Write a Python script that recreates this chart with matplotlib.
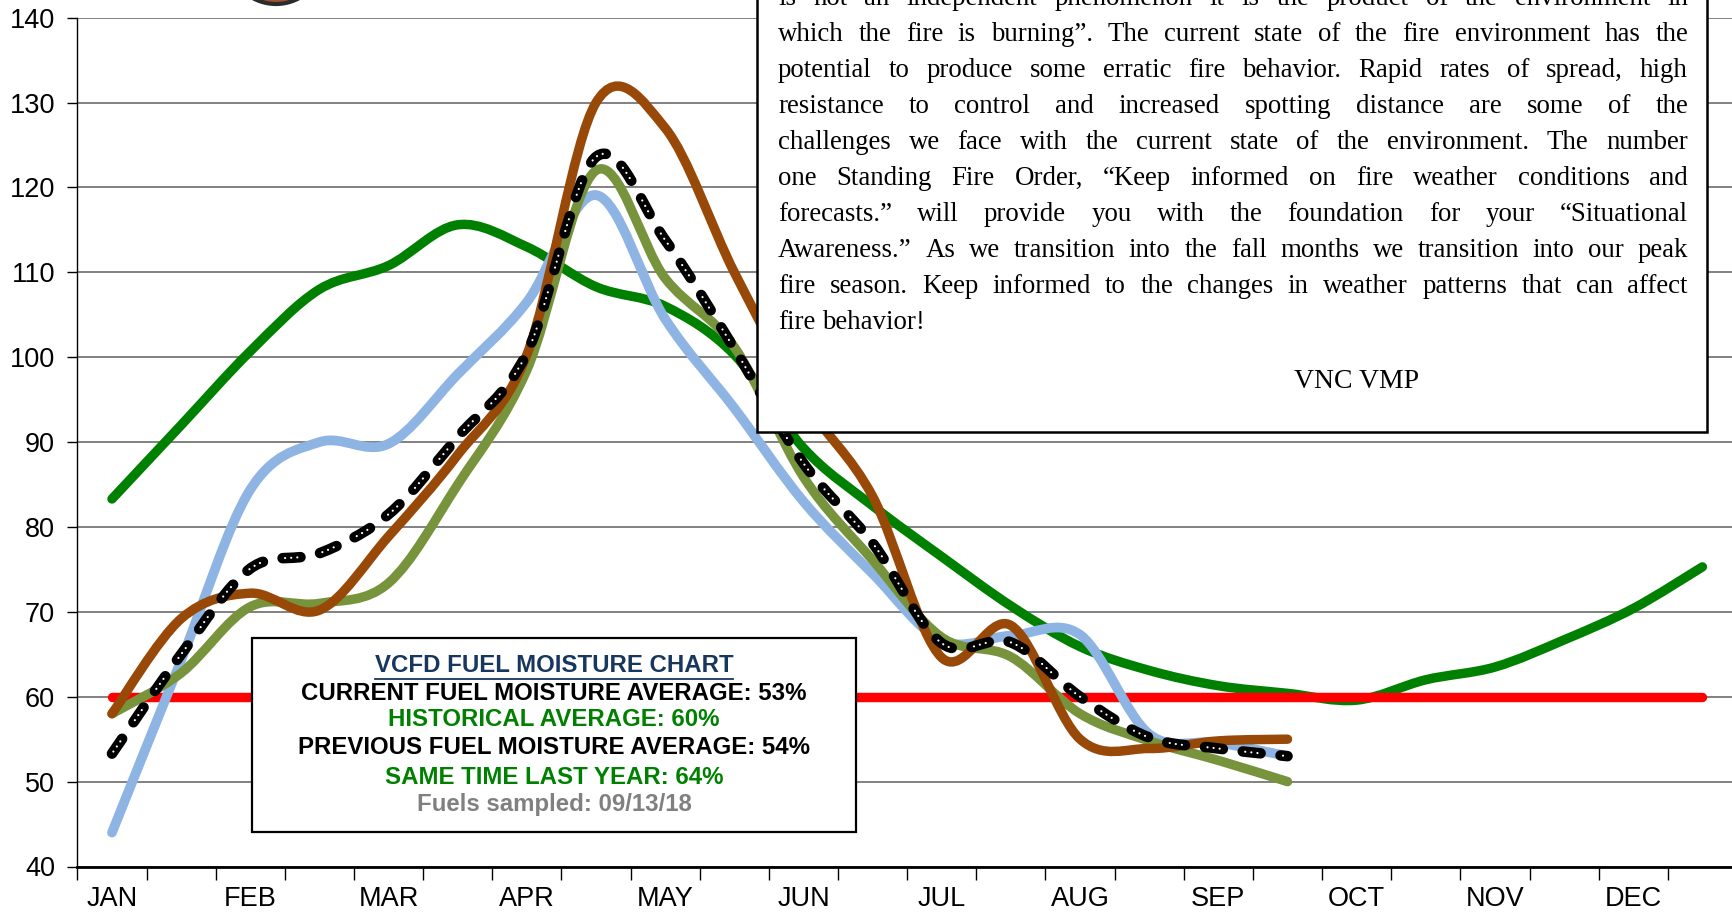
import numpy as np
import matplotlib
matplotlib.use('Agg')
import matplotlib.pyplot as plt
from matplotlib.path import Path
from matplotlib.patches import PathPatch, Rectangle, Ellipse
from matplotlib.lines import Line2D

# half-month sample slots, labels on every other slot
months = ['JAN', 'FEB', 'MAR', 'APR', 'MAY', 'JUN',
          'JUL', 'AUG', 'SEP', 'OCT', 'NOV', 'DEC']
slots = np.arange(24)

hist_avg = [83.3, 92.0, 100.7, 108.0, 110.8, 115.6, 113.0, 108.3, 106.0, 100.3,
            89.3, 82.5, 76.5, 70.7, 65.9, 63.1, 61.3, 60.4, 59.6, 62.0,
            63.5, 66.7, 70.4, 75.3]
current = [53.3, 65.0, 75.1, 76.9, 81.5, 90.6, 100.5, 123.6, 113.8, 101.0,
           87.5, 78.1, 66.3, 66.4, 60.0, 55.2, 53.9, 53.0]
blue_year = [44.0, 64.3, 84.4, 90.0, 89.8, 98.0, 106.5, 119.1, 104.5, 94.0,
             83.0, 74.5, 66.6, 67.2, 67.3, 55.6, 54.6, 53.0]
olive_year = [58.0, 62.8, 70.6, 71.0, 73.4, 85.0, 98.5, 122.0, 109.3, 101.2,
              85.9, 76.1, 67.0, 64.7, 58.0, 54.8, 52.5, 50.0]
brown_year = [58.0, 69.2, 72.2, 70.2, 78.9, 88.5, 100.3, 130.0, 127.0, 110.0,
              95.0, 83.6, 64.6, 68.4, 55.0, 53.9, 54.8, 55.0]
threshold = 60

stats_lines = [
    ('VCFD FUEL MOISTURE CHART', '#17375E'),
    ('CURRENT FUEL MOISTURE AVERAGE: 53%', 'black'),
    ('HISTORICAL AVERAGE: 60%', '#008000'),
    ('PREVIOUS FUEL MOISTURE AVERAGE: 54%', 'black'),
    ('SAME TIME LAST YEAR: 64%', '#008000'),
    ('Fuels sampled: 09/13/18', '#808080'),
]

note_lines = [
    "is not an independent phenomenon it is the product of the environment in",
    "which the fire is burning\u201d. The current state of the fire environment has the",
    "potential to produce some erratic fire behavior. Rapid rates of spread, high",
    "resistance to control and increased spotting distance are some of the",
    "challenges we face with the current state of the environment. The number",
    "one Standing Fire Order, \u201cKeep informed on fire weather conditions and",
    "forecasts.\u201d will provide you with the foundation for your \u201cSituational",
    "Awareness.\u201d As we transition into the fall months we transition into our peak",
    "fire season. Keep informed to the changes in weather patterns that can affect",
    "fire behavior!",
]
signature = 'VNC VMP'


def smooth_path(x, y):
    # Excel-like smoothed line: cubic bezier through the points
    pts = np.column_stack([x, y]).astype(float)
    n = len(pts)
    verts = [pts[0]]
    codes = [Path.MOVETO]
    for i in range(n - 1):
        p0 = pts[i - 1] if i > 0 else pts[i]
        p1 = pts[i]
        p2 = pts[i + 1]
        p3 = pts[i + 2] if i + 2 < n else pts[i + 1]
        verts += [p1 + (p2 - p0) / 6, p2 - (p3 - p1) / 6, p2]
        codes += [Path.CURVE4] * 3
    return Path(verts, codes)


W, H = 1733, 915
fig = plt.figure(figsize=(W / 100, H / 100), dpi=100)
ax = fig.add_axes([77.4 / W, 48.5 / H, 1659.6 / W, 848.8 / H])

ax.set_xlim(-0.5, 23.5)
ax.set_ylim(40, 140)
ax.set_yticks(range(40, 141, 10))
ax.set_xticks(np.arange(-0.5, 24, 1))
ax.set_xticklabels([])
ax.set_xticks(slots[::2], minor=True)
ax.set_xticklabels(months, minor=True)
ax.tick_params(axis='x', which='major', length=9, width=1, color='black')
ax.tick_params(axis='x', which='minor', length=0, pad=14, labelsize=19.5)
ax.tick_params(axis='y', length=7, width=1, pad=9, labelsize=19.5)
for lab in ax.get_xticklabels(minor=True) + ax.get_yticklabels():
    lab.set_fontfamily('Liberation Sans')

ax.grid(axis='y', color='#5f5f5f', lw=1.1)
ax.set_axisbelow(True)
for s in ['top', 'right']:
    ax.spines[s].set_visible(False)
ax.spines['left'].set_linewidth(1)
ax.spines['bottom'].set_linewidth(2)

def draw(values, color, lw, z, **kw):
    x = slots[:len(values)]
    ax.add_patch(PathPatch(smooth_path(x, values), fill=False, edgecolor=color,
                           lw=lw, capstyle='round', joinstyle='round',
                           zorder=z, **kw))

draw(hist_avg, '#008000', 6.8, 2.0)
ax.plot(slots, np.full(len(slots), threshold), color='#FF0000', lw=6.8,
        solid_capstyle='round', zorder=2.1)
draw(blue_year, '#8DB4E2', 7.0, 2.2)
draw(olive_year, '#77933C', 6.8, 2.3)
draw(brown_year, '#984807', 6.8, 2.4)

# current year: black dashes with white dots inside
blw = 7.6
draw(current, 'black', blw, 2.5, linestyle=(0, (1.7, 1.9)))
wlw = 1.6
period = 3.6 * blw
dots = [0.01, 4.4, 0.01, 4.4, 0.01, period - 8.83]
draw(current, 'white', wlw, 2.6,
     linestyle=(-1.8 / wlw, tuple(d / wlw for d in dots)))

# logo remnant at the top
fig.add_artist(Ellipse((276 / W, 1 + 48 / H), 100 / W, 104 / H,
                       transform=fig.transFigure, facecolor='#A0522D',
                       edgecolor='#2b2b2b', lw=3, zorder=5))

# stats box
fig.add_artist(Rectangle((252 / W, 1 - 832 / H), 604 / W, 194 / H,
                         transform=fig.transFigure, facecolor='white',
                         edgecolor='black', lw=1.6, zorder=5))
stat_y = [666, 693, 720, 748, 777, 804]
stat_texts = []
for (txt, col), yy in zip(stats_lines, stat_y):
    t = fig.text(554 / W, 1 - yy / H, txt, ha='center', va='center',
                 color=col, fontsize=17.3, fontweight='bold',
                 fontfamily='Liberation Sans', zorder=6)
    stat_texts.append(t)

# note box, top right
fig.add_artist(Rectangle((757 / W, 1 - 432 / H), 950 / W, 500 / H,
                         transform=fig.transFigure, facecolor='white',
                         edgecolor='black', lw=1.8, zorder=5))

renderer = fig.canvas.get_renderer()

# underline for the stats title
bb = stat_texts[0].get_window_extent(renderer)
fig.add_artist(Line2D([bb.x0 / W, bb.x1 / W], [(bb.y0 - 1) / H, (bb.y0 - 1) / H],
                      transform=fig.transFigure, color='#17375E', lw=1.3,
                      zorder=6))

left_px, right_px = 778, 1688
baseline0 = 4.7
line_gap = 36.0
fsize = 19.4

def word_width(w):
    t = fig.text(0, 0, w, fontsize=fsize, fontfamily='Liberation Serif')
    wd = t.get_window_extent(renderer).width
    t.remove()
    return wd

space_w = word_width('a b') - word_width('ab')
for k, line in enumerate(note_lines):
    ybase = 1 - (baseline0 + k * line_gap) / H
    words = line.split(' ')
    widths = [word_width(w) for w in words]
    if k == len(note_lines) - 1:
        gap = space_w
    else:
        gap = (right_px - left_px - sum(widths)) / (len(words) - 1)
    x = left_px
    for w, wd in zip(words, widths):
        fig.text(x / W, ybase, w, fontsize=fsize, fontfamily='Liberation Serif',
                 va='baseline', ha='left', zorder=6)
        x += wd + gap

fig.text(1357 / W, 1 - 388 / H, signature, fontsize=20,
         fontfamily='Liberation Serif', va='baseline', ha='center', zorder=6)

fig.savefig('out.png', dpi=100)
